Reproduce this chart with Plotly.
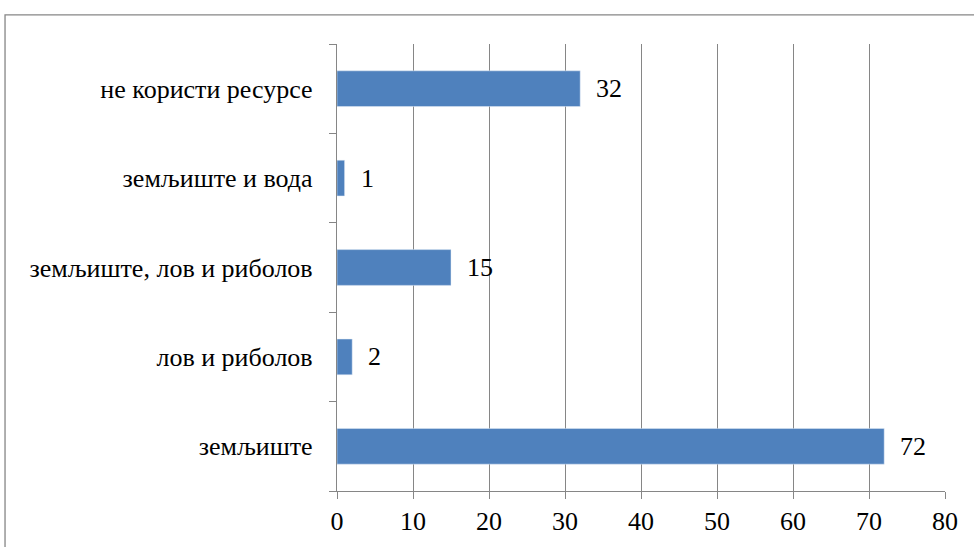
import plotly.graph_objects as go

categories = ["земљиште", "лов и риболов", "земљиште, лов и риболов",
              "земљиште и вода", "не користи ресурсе"]
values = [72, 2, 15, 1, 32]
x_ticks = [0, 10, 20, 30, 40, 50, 60, 70, 80]

FONT = "Liberation Serif"
AXIS = "#868686"

fig = go.Figure()
fig.add_trace(go.Bar(
    y=categories, x=values, orientation="h",
    marker=dict(color="#4f81bd"),
    width=0.4,
))

# value labels to the right of each bar
for cat, val in zip(categories, values):
    fig.add_annotation(x=val, y=cat, text=str(val), showarrow=False,
                       xanchor="left", xshift=14,
                       font=dict(family=FONT, size=26, color="black"))

fig.update_layout(
    width=974, height=547,
    margin=dict(l=337, r=29, t=44, b=56),
    plot_bgcolor="white",
    font=dict(family=FONT, size=26, color="black"),
)
fig.update_xaxes(
    range=[0, 80], tickvals=x_ticks, ticks="outside", ticklen=7,
    tickcolor=AXIS, gridcolor=AXIS, gridwidth=1.3,
    showline=True, linecolor=AXIS, linewidth=1.3, zeroline=False,
    tickfont=dict(family=FONT, size=26, color="black"),
)
fig.update_yaxes(
    showline=True, linecolor=AXIS, linewidth=1.3,
    ticks="outside", ticklen=7, tickcolor=AXIS, tickson="boundaries",
    showgrid=False, ticklabelstandoff=18,
    tickfont=dict(family=FONT, size=26, color="black"),
)

# outer chart frame
fig.add_shape(type="rect", xref="paper", yref="paper",
              x0=-0.546, x1=1.2, y0=-0.3, y1=1.065,
              line=dict(color=AXIS, width=1.3))

fig.write_html("out.html", config={"displayModeBar": False},
               post_script="document.body.style.margin='0';")
